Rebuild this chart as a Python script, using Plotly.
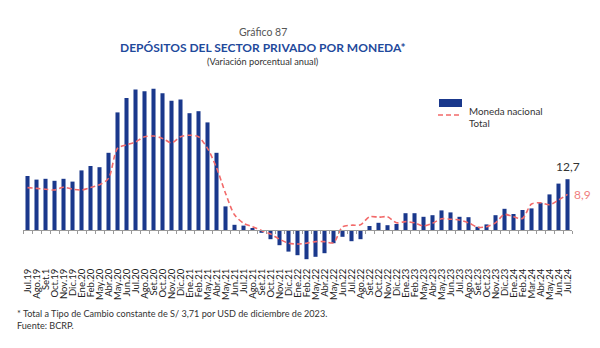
import numpy as np
import plotly.graph_objects as go

# Monthly labels, Jul.19 - Jul.24
meses = [
    "Jul.19", "Ago.19", "Set.1", "Oct.19", "Nov.19", "Dic.19",
    "Ene.20", "Feb.20", "May.20", "Abr.20", "May.20", "Jun.20",
    "Jul.20", "Ago.20", "Set.20", "Oct.20", "Nov.20", "Dic.20",
    "Ene.21", "Feb.21", "May.21", "Abr.21", "May.21", "Jun.21",
    "Jul.21", "Ago.21", "Set.21", "Oct.21", "Nov.21", "Dic.21",
    "Ene.22", "Feb.22", "May.22", "Abr.22", "May.22", "Jun.22",
    "Jul.22", "Ago.22", "Set.22", "Oct.22", "Nov.22", "Dic.22",
    "Ene.23", "Feb.23", "May.23", "Abr.23", "May.23", "Jun.23",
    "Jul.23", "Ago.23", "Set.23", "Oct.23", "Nov.23", "Dic.23",
    "Ene.24", "Feb.24", "Mar.24", "Abr.24", "May.24", "Jun.24",
    "Jul.24",
]

# Annual % change, domestic-currency deposits
moneda_nacional = [
    13.5, 12.6, 12.8, 12.3, 12.8, 12.1,
    14.9, 16.0, 15.7, 19.3, 29.4, 33.0,
    35.1, 34.7, 35.3, 34.2, 32.3, 32.6,
    29.2, 29.7, 26.9, 19.3, 5.9, 1.3,
    1.1, 0.5, -0.7, -2.3, -3.8, -5.4,
    -6.3, -7.3, -6.7, -5.8, -3.3, -1.7,
    -2.8, -2.3, 1.0, 1.8, 1.2, 1.5,
    4.2, 4.2, 3.3, 3.7, 4.9, 4.4,
    3.3, 3.2, 0.8, 1.4, 3.7, 5.3,
    4.0, 5.0, 5.4, 6.8, 8.9, 11.6,
    12.7,
]

# Annual % change, total deposits (constant exchange rate)
total = [
    10.6, 10.4, 10.2, 10.0, 10.7, 10.2,
    10.0, 10.6, 11.3, 12.9, 20.4, 21.3,
    22.0, 23.3, 23.5, 22.9, 21.8, 23.3,
    23.7, 23.3, 20.4, 15.6, 9.2, 3.8,
    1.7, 0.8, -0.1, -1.0, -2.3, -3.3,
    -3.5, -3.3, -2.9, -2.9, -3.2, 0.8,
    1.2, 1.3, 3.3, 3.2, 3.3, 1.8,
    2.1, 1.8, 1.0, 1.7, 2.8, 2.7,
    2.5, 1.8, 0.7, 0.8, 1.8, 3.9,
    3.3, 2.9, 6.5, 6.8, 6.3, 7.5,
    8.9,
]

W, H = 600, 348
ML, MR, MT, MB = 23, 28, 86, 78
Y_MIN, Y_MAX = -10, 36
PW, PH = W - ML - MR, H - MT - MB

AZUL = "#1a388c"
ROJO = "#f26a6a"
FONT = "Lato"

def px(x):
    return (x - ML) / PW

def py(y):
    return (H - MB - y) / PH

n = len(meses)
idx = np.arange(n)
zero_pos = (0 - Y_MIN) / (Y_MAX - Y_MIN)

fig = go.Figure()
fig.add_trace(go.Bar(
    x=idx, y=moneda_nacional, name="Moneda nacional",
    marker=dict(color=AZUL, line=dict(width=0)),
    xaxis="x", yaxis="y",
))
fig.add_trace(go.Scatter(
    x=idx, y=total, name="Total", mode="lines",
    line=dict(color=ROJO, width=1.6, dash="5px,3px", shape="spline", smoothing=0.8),
    xaxis="x2", yaxis="y",
))

fig.update_layout(
    width=W, height=H,
    margin=dict(l=ML, r=MR, t=MT, b=MB),
    paper_bgcolor="white", plot_bgcolor="white",
    showlegend=False,
    bargap=0.55,
    font=dict(family=FONT, color="#333333"),
    xaxis=dict(
        range=[-0.5, n - 0.5], anchor="free", position=zero_pos,
        tickmode="array", tickvals=idx, ticktext=meses,
        tickangle=-90, ticks="", showgrid=False, zeroline=False,
        showline=True, linecolor="#9a9a9a", linewidth=1,
        tickfont=dict(size=9.5, color="#222222", family=FONT),
        ticklabelstandoff=34,
    ),
    xaxis2=dict(
        range=[-0.5, n - 0.5], overlaying="x", anchor="free", position=zero_pos,
        tickmode="array", tickvals=np.arange(n + 1) - 0.5,
        ticks="outside", ticklen=3, tickcolor="#9a9a9a", tickwidth=1,
        showticklabels=False, showgrid=False, zeroline=False, showline=False,
    ),
    yaxis=dict(
        range=[Y_MIN, Y_MAX], visible=False, showgrid=False, zeroline=False,
    ),
)

annotations = [
    dict(text="Gráfico 87", x=px(263), y=py(24), xref="paper", yref="paper",
         showarrow=False, font=dict(size=10.5, color="#555555", family=FONT)),
    dict(text="<b>DEPÓSITOS DEL SECTOR PRIVADO POR MONEDA*</b>", x=px(263), y=py(38),
         xref="paper", yref="paper", showarrow=False,
         font=dict(size=12, color="#1f4a9c", family=FONT)),
    dict(text="(Variación porcentual anual)", x=px(263), y=py(54), xref="paper", yref="paper",
         showarrow=False, font=dict(size=9.2, color="#333333", family=FONT)),
    dict(text="Moneda nacional", x=px(467), y=py(103), xref="paper", yref="paper",
         xanchor="left", showarrow=False, font=dict(size=9.8, color="#333333", family=FONT)),
    dict(text="Total", x=px(467), y=py(115), xref="paper", yref="paper",
         xanchor="left", showarrow=False, font=dict(size=9.8, color="#333333", family=FONT)),
    dict(text=f"{moneda_nacional[-1]:.1f}".replace(".", ","), x=idx[-1], y=moneda_nacional[-1],
         xref="x", yref="y", yanchor="bottom", yshift=3, showarrow=False,
         font=dict(size=12, color="#333333", family=FONT)),
    dict(text=f"{total[-1]:.1f}".replace(".", ","), x=idx[-1], y=total[-1],
         xref="x", yref="y", xanchor="left", xshift=4, showarrow=False,
         font=dict(size=12, color="#f08080", family=FONT)),
    dict(text="* Total a Tipo de Cambio constante de S/ 3,71 por USD de diciembre de 2023.",
         x=px(15), y=py(321), xref="paper", yref="paper", xanchor="left",
         showarrow=False, font=dict(size=9.1, color="#333333", family=FONT)),
    dict(text="Fuente: BCRP.", x=px(15), y=py(333), xref="paper", yref="paper",
         xanchor="left", showarrow=False, font=dict(size=9.1, color="#333333", family=FONT)),
]
fig.update_layout(annotations=annotations)

fig.update_layout(shapes=[
    dict(type="rect", xref="paper", yref="paper",
         x0=px(439), x1=px(462), y0=py(107), y1=py(99),
         fillcolor=AZUL, line=dict(width=0)),
    dict(type="line", xref="paper", yref="paper",
         x0=px(438), x1=px(462), y0=py(115), y1=py(115),
         line=dict(color=ROJO, width=1.6, dash="5px,3px")),
])

fig.write_html("out.html")
